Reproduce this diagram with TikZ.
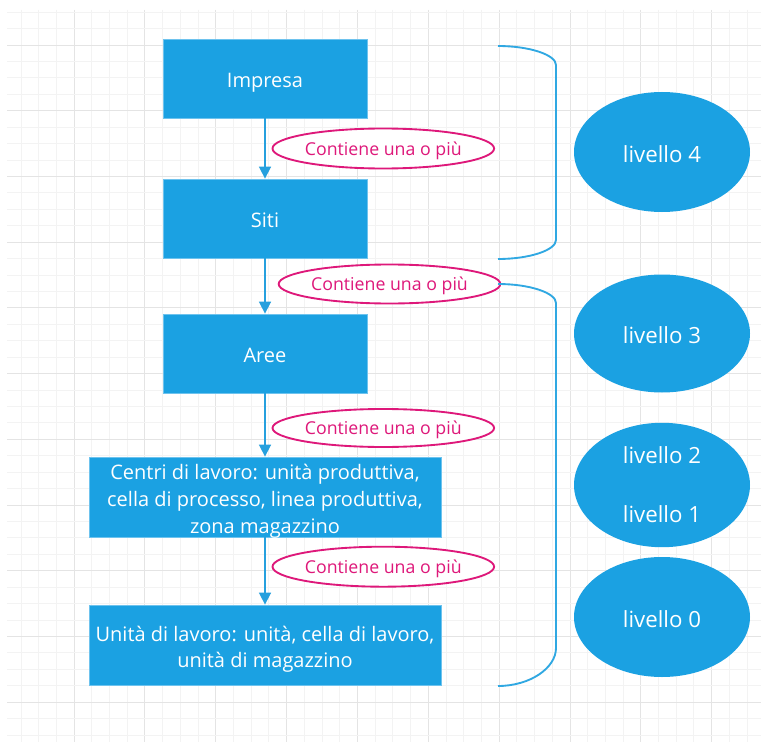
\documentclass[tikz,border=0pt]{standalone}
\usepackage{fontspec}
\setmainfont{Open Sans}
\usetikzlibrary{arrows.meta,shapes.geometric}
\definecolor{boxblue}{RGB}{27,161,226}
\definecolor{boxedge}{RGB}{110,195,238}
\definecolor{linkblue}{RGB}{38,160,222}
\definecolor{bracecol}{RGB}{48,168,226}
\definecolor{pinkc}{RGB}{222,24,122}
\definecolor{gridminor}{RGB}{243,243,243}
\definecolor{gridmajor}{RGB}{228,228,228}
\newcommand\boxtxt[1]{\raisebox{-3pt}[\height][\depth]{\begin{tabular}{@{}c@{}}#1\end{tabular}}}
\newcommand\dn[2]{\raisebox{-#1}[\height][\depth]{#2}}
\tikzset{
  levelbox/.style={rectangle, fill=boxblue, draw=boxedge, line width=0.6pt, text=white, align=center,
    font=\fontsize{15}{20}\selectfont, inner sep=0pt},
  relnote/.style={ellipse, draw=pinkc, line width=1.4pt, fill=white, text=pinkc,
    font=\fontsize{13.3}{16}\selectfont, inner sep=0pt},
  levelell/.style={ellipse, fill=boxblue, text=white, align=center,
    font=\fontsize{16.7}{22}\selectfont, inner sep=0pt},
  flow/.style={draw=linkblue, line width=1.2pt, -{Triangle[width=9pt,length=9pt]}},
  bracket/.style={draw=bracecol, line width=1.4pt},
}
\begin{document}
\begin{tikzpicture}[x=0.75pt,y=-0.75pt]
\useasboundingbox (0,0) rectangle (761,742);
\fill[white] (0,0) rectangle (761,742);
% grid
\foreach \k in {0,...,42} {
  \pgfmathsetmacro{\xx}{20.9+17.71*\k}
  \pgfmathtruncatemacro{\mj}{mod(\k+1,4)==0 ? 1 : 0}
  \ifnum\mj=1 \draw[gridmajor,line width=0.6pt] (\xx,10) -- (\xx,742);
  \else \draw[gridminor,line width=0.6pt] (\xx,10) -- (\xx,742); \fi
}
\foreach \k in {0,...,44} {
  \pgfmathsetmacro{\yy}{12.1+16.43*\k}
  \pgfmathtruncatemacro{\mj}{mod(\k+2,4)==0 ? 1 : 0}
  \ifnum\mj=1 \draw[gridmajor,line width=0.6pt] (7,\yy) -- (761,\yy);
  \else \draw[gridminor,line width=0.6pt] (7,\yy) -- (761,\yy); \fi
}
% boxes
\node[levelbox, minimum width=204*0.75pt, minimum height=79*0.75pt] (impresa) at (265,78.5) {\boxtxt{Impresa}};
\node[levelbox, minimum width=204*0.75pt, minimum height=79*0.75pt] (siti) at (265,218.5) {\boxtxt{Siti}};
\node[levelbox, minimum width=204*0.75pt, minimum height=79*0.75pt] (aree) at (265,353.5) {\boxtxt{Aree}};
\node[levelbox, minimum width=352*0.75pt, minimum height=80*0.75pt] (centri) at (265,497) {\boxtxt{Centri di lavoro: unità produttiva,\\cella di processo, linea produttiva,\\zona magazzino}};
\node[levelbox, minimum width=352*0.75pt, minimum height=80*0.75pt] (unita) at (265,645) {\boxtxt{Unità di lavoro: unità, cella di lavoro,\\unità di magazzino}};
% arrows
\draw[flow] (impresa) -- (siti);
\draw[flow] (siti) -- (aree);
\draw[flow] (aree) -- (centri);
\draw[flow] (centri) -- (unita);
% relation labels
\node[relnote, minimum width=208*0.75pt, minimum height=40*0.75pt] (r1) at (383.3,148.5) {\dn{1.5pt}{Contiene una o più}};
\node[relnote, minimum width=208*0.75pt, minimum height=39*0.75pt] (r2) at (389.5,284) {\dn{1.5pt}{Contiene una o più}};
\node[relnote, minimum width=208*0.75pt, minimum height=38*0.75pt] (r3) at (383.3,428) {\dn{1.5pt}{Contiene una o più}};
\node[relnote, minimum width=208*0.75pt, minimum height=40*0.75pt] (r4) at (383.3,566.7) {\dn{1.5pt}{Contiene una o più}};
% brackets
\coordinate (b1s) at (498,46);
\coordinate (b1e) at (498,259);
\draw[bracket] (b1s) .. controls (530,46) and (556,55) .. (556,65) -- (556,240) .. controls (556,250) and (530,259) .. (b1e);
\coordinate (b2s) at (498,284);
\coordinate (b2e) at (498,686);
\draw[bracket] (b2s) .. controls (530,284) and (556,293) .. (556,303) -- (556,648) .. controls (556,668) and (530,686) .. (b2e);
% level ellipses
\node[levelell, minimum width=176*0.75pt, minimum height=120*0.75pt] (l4) at (662,152) {\dn{1.5pt}{livello 4}};
\node[levelell, minimum width=176*0.75pt, minimum height=118*0.75pt] (l3) at (662,333.5) {\dn{1.5pt}{livello 3}};
\node[levelell, minimum width=176*0.75pt, minimum height=120*0.75pt] (l21) at (662,485) {\dn{1.5pt}{\begin{tabular}{@{}c@{}}livello 2\\[22pt]livello 1\end{tabular}}};
\node[levelell, minimum width=176*0.75pt, minimum height=120*0.75pt] (l0) at (662,617) {\dn{1.5pt}{livello 0}};
\end{tikzpicture}
\end{document}
